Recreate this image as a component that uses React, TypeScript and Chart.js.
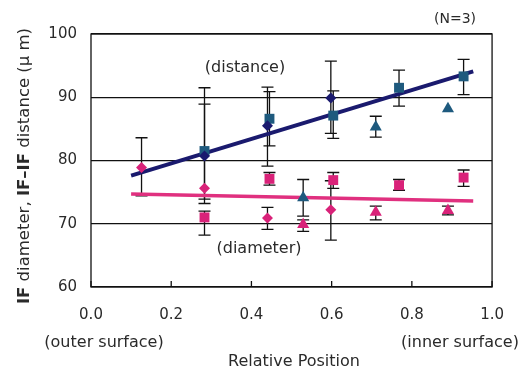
import React, { useEffect, useRef } from "react";
import { Chart, registerables } from "chart.js";
Chart.register(...registerables);

// ---- axis ticks ----
const xTickValues = [0, 0.2, 0.4, 0.6, 0.8, 1.0];
const yTickValues = [60, 70, 80, 90, 100];

// ---- IF-IF distance (sample A: diamonds) ----
const distDiamondX = [0.283, 0.44, 0.598];
const distDiamondY = [80.7, 85.5, 89.9];
const distDiamondHi = [88.9, 91.6, 95.7];
const distDiamondLo = [73.2, 79.1, 84.3];

// ---- IF-IF distance (sample B: squares) ----
const distSquareX = [0.283, 0.445, 0.604, 0.768, 0.929];
const distSquareY = [81.5, 86.6, 87.1, 91.5, 93.3];
const distSquareHi = [91.5, 90.9, 91.0, 94.3, 96.0];
const distSquareLo = [73.9, 82.3, 83.5, 88.6, 90.4];

// ---- IF-IF distance (sample C: triangles) ----
const distTriX = [0.529, 0.71, 0.89];
const distTriY = [74.1, 85.3, 88.2];
const distTriHi = [77.0, 87.0, 88.2];
const distTriLo = [71.2, 83.7, 88.2];

// ---- IF diameter (sample A: diamonds) ----
const diamDiamondX = [0.126, 0.283, 0.44, 0.598];
const diamDiamondY = [78.9, 75.6, 70.9, 72.2];
const diamDiamondHi = [83.6, 75.6, 72.6, 76.8];
const diamDiamondLo = [74.4, 75.6, 69.1, 67.4];

// ---- IF diameter (sample B: squares) ----
const diamSquareX = [0.283, 0.445, 0.604, 0.768, 0.929];
const diamSquareY = [71.0, 77.1, 76.9, 76.1, 77.3];
const diamSquareHi = [72.0, 78.1, 78.1, 77.0, 78.5];
const diamSquareLo = [68.2, 76.1, 75.6, 75.3, 75.9];

// ---- IF diameter (sample C: triangles) ----
const diamTriX = [0.529, 0.71, 0.89];
const diamTriY = [69.9, 71.8, 72.1];
const diamTriHi = [70.6, 72.8, 72.8];
const diamTriLo = [68.8, 70.6, 71.4];

// ---- regression lines ----
const distTrendX = [0.1, 0.953];
const distTrendY = [77.6, 94.1];
const diamTrendX = [0.1, 0.953];
const diamTrendY = [74.7, 73.6];

// ---- texts ----
const noteN = "(N=3)";
const noteDistance = "(distance)";
const noteDiameter = "(diameter)";
const noteOuter = "(outer surface)";
const noteInner = "(inner surface)";
const xTitle = "Relative Position";
const yTitleParts: [string, boolean][] = [
  ["IF", true],
  [" diameter, ", false],
  ["IF–IF", true],
  [" distance (μ m)", false],
];

const FONT = '"DejaVu Sans", sans-serif';
const TEXT = "#2a2a2a";
const NAVY = "#1a1a6e";
const TEAL = "#1e5a7e";
const PINK = "#d92279";
const PINK_LINE = "#e0307f";

const pts = (xs: number[], ys: number[]) => xs.map((x, i) => ({ x, y: ys[i] }));

const errorBarPlugin = {
  id: "errorBars",
  beforeDatasetsDraw(chart: any) {
    const { ctx } = chart;
    const xs = chart.scales.x;
    const ys = chart.scales.y;
    ctx.save();
    ctx.strokeStyle = "#111";
    ctx.lineWidth = 1.3;
    chart.data.datasets.forEach((ds: any) => {
      if (!ds.errHi) return;
      ds.data.forEach((p: any, i: number) => {
        const hi = ds.errHi[i];
        const lo = ds.errLo[i];
        if (hi === lo) return;
        const px = xs.getPixelForValue(p.x);
        const ph = ys.getPixelForValue(hi);
        const pl = ys.getPixelForValue(lo);
        ctx.beginPath();
        ctx.moveTo(px, ph);
        ctx.lineTo(px, pl);
        ctx.moveTo(px - 6, ph);
        ctx.lineTo(px + 6, ph);
        ctx.moveTo(px - 6, pl);
        ctx.lineTo(px + 6, pl);
        ctx.stroke();
      });
    });
    ctx.restore();
  },
};

const decorPlugin = {
  id: "decor",
  afterDraw(chart: any) {
    const { ctx, chartArea: a } = chart;
    const xs = chart.scales.x;
    ctx.save();
    // frame
    ctx.strokeStyle = "#111";
    ctx.lineWidth = 1.3;
    ctx.strokeRect(a.left, a.top, a.right - a.left, a.bottom - a.top);
    // inner x ticks
    ctx.beginPath();
    xTickValues.forEach((v) => {
      const px = xs.getPixelForValue(v);
      ctx.moveTo(px, a.bottom);
      ctx.lineTo(px, a.bottom - 6);
    });
    ctx.stroke();
    // texts
    ctx.fillStyle = TEXT;
    ctx.textAlign = "center";
    ctx.textBaseline = "middle";
    ctx.font = `14px ${FONT}`;
    ctx.fillText(noteN, 455, 19);
    ctx.font = `16px ${FONT}`;
    ctx.fillText(noteDistance, 245, 68);
    ctx.fillText(noteDiameter, 259, 249);
    ctx.fillText(noteOuter, 104, 343);
    ctx.fillText(noteInner, 460, 343);
    ctx.fillText(xTitle, 294, 362);
    // y title with mixed weights
    ctx.translate(25, 166);
    ctx.rotate(-Math.PI / 2);
    const fonts = yTitleParts.map(([, b]) => (b ? `bold 16.5px ${FONT}` : `16.5px ${FONT}`));
    let total = 0;
    const widths = yTitleParts.map(([t], i) => {
      ctx.font = fonts[i];
      const w = ctx.measureText(t).width;
      total += w;
      return w;
    });
    let cx = -total / 2;
    ctx.textAlign = "left";
    yTitleParts.forEach(([t], i) => {
      ctx.font = fonts[i];
      ctx.fillText(t, cx, 0);
      cx += widths[i];
    });
    ctx.restore();
  },
};

export default function App() {
  const ref = useRef<HTMLCanvasElement>(null);
  useEffect(() => {
    if (!ref.current) return;
    const scatter = (label: string, xs: number[], ys: number[], hi: number[], lo: number[], style: string, color: string, r: number) => ({
      type: "scatter" as const,
      label,
      data: pts(xs, ys),
      errHi: hi,
      errLo: lo,
      pointStyle: style,
      pointRadius: r,
      backgroundColor: color,
      borderColor: color,
      borderWidth: 0,
      showLine: false,
    });
    const chart = new Chart(ref.current, {
      type: "scatter",
      data: {
        datasets: [
          scatter("dist A", distDiamondX, distDiamondY, distDiamondHi, distDiamondLo, "rectRot", NAVY, 5.5),
          scatter("dist B", distSquareX, distSquareY, distSquareHi, distSquareLo, "rect", TEAL, 7),
          scatter("dist C", distTriX, distTriY, distTriHi, distTriLo, "triangle", TEAL, 7),
          scatter("diam A", diamDiamondX, diamDiamondY, diamDiamondHi, diamDiamondLo, "rectRot", PINK, 5.5),
          scatter("diam B", diamSquareX, diamSquareY, diamSquareHi, diamSquareLo, "rect", PINK, 7),
          scatter("diam C", diamTriX, diamTriY, diamTriHi, diamTriLo, "triangle", PINK, 7),
          {
            type: "line" as const,
            label: "dist trend",
            data: pts(distTrendX, distTrendY),
            borderColor: NAVY,
            borderWidth: 4,
            pointRadius: 0,
            showLine: true,
          },
          {
            type: "line" as const,
            label: "diam trend",
            data: pts(diamTrendX, diamTrendY),
            borderColor: PINK_LINE,
            borderWidth: 3.5,
            pointRadius: 0,
            showLine: true,
          },
        ] as any,
      },
      options: {
        responsive: false,
        animation: false,
        events: [],
        layout: { padding: { top: 34, right: 24, left: 0, bottom: 0 } },
        plugins: { legend: { display: false }, tooltip: { enabled: false }, title: { display: false } },
        scales: {
          x: {
            type: "linear",
            min: 0,
            max: 1,
            afterBuildTicks: (s: any) => {
              s.ticks = xTickValues.map((v) => ({ value: v }));
            },
            afterFit: (s: any) => {
              s.height = 84;
            },
            grid: { display: false, drawTicks: false },
            border: { display: false },
            ticks: {
              padding: 19,
              color: TEXT,
              font: { family: FONT, size: 15 },
              maxRotation: 0,
              callback: (v: any) => Number(v).toFixed(1),
            },
          },
          y: {
            type: "linear",
            min: 60,
            max: 100,
            afterBuildTicks: (s: any) => {
              s.ticks = yTickValues.map((v) => ({ value: v }));
            },
            afterFit: (s: any) => {
              s.width = 91;
            },
            grid: { color: "#111", lineWidth: 1.3, drawTicks: false },
            border: { display: false },
            ticks: {
              padding: 14,
              color: TEXT,
              font: { family: FONT, size: 15 },
              callback: (v: any) => String(v),
            },
          },
        },
      },
      plugins: [errorBarPlugin, decorPlugin],
    } as any);
    return () => chart.destroy();
  }, []);
  return (
    <div style={{ position: "fixed", left: 0, top: 0, width: 523, height: 371, background: "#fff" }}>
      <canvas ref={ref} width={523} height={371} />
    </div>
  );
}
